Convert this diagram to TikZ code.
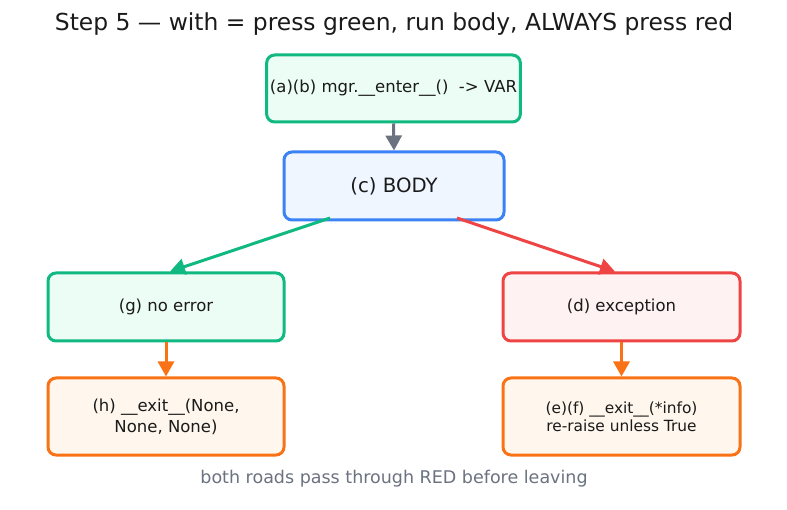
\documentclass[tikz,border=0pt]{standalone}
\usepackage{fontspec}
\setmainfont{DejaVu Sans}
\usetikzlibrary{arrows.meta}
\definecolor{gstroke}{HTML}{10B981}
\definecolor{gfill}{HTML}{ECFDF5}
\definecolor{bstroke}{HTML}{3B82F6}
\definecolor{bfill}{HTML}{EFF6FF}
\definecolor{rstroke}{HTML}{EF4444}
\definecolor{rfill}{HTML}{FEF2F2}
\definecolor{ostroke}{HTML}{F97316}
\definecolor{ofill}{HTML}{FFF7ED}
\definecolor{garrow}{HTML}{6B7280}
\definecolor{txt}{HTML}{1A1A1A}
\begin{document}
\begin{tikzpicture}[x=1pt,y=-1pt,
  box/.style={rounded corners=8pt, line width=3pt, align=center, text=txt,
    font=\fontsize{16.5}{21}\selectfont},
  conn/.style={line width=3pt, -{Triangle[length=15pt,width=16pt]}}]
\useasboundingbox[fill=white] (0,0) rectangle (787,510);
\node[font=\fontsize{23.4}{27}\selectfont, text=txt] (title) at (394,24) {Step 5 — with = press green, run body, ALWAYS press red};
\node[box, draw=gstroke, fill=gfill, minimum width=251pt, minimum height=67pt] (enter) at (393.5,88.5) {(a)(b) mgr.\_\_enter\_\_()\ \ -> VAR};
\node[box, draw=bstroke, fill=bfill, minimum width=220pt, minimum height=68pt, font=\fontsize{19.7}{23}\selectfont] (body) at (394,186) {(c) BODY};
\node[box, draw=gstroke, fill=gfill, minimum width=236pt, minimum height=68pt] (noerr) at (166,307) {(g) no error};
\node[box, draw=rstroke, fill=rfill, minimum width=237pt, minimum height=68pt] (exc) at (621.5,307) {(d) exception};
\node[box, draw=ostroke, fill=ofill, minimum width=236pt, minimum height=77pt] (exitn) at (166,416.5) {(h) \_\_exit\_\_(None,\\None, None)};
\node[box, draw=ostroke, fill=ofill, minimum width=237pt, minimum height=77pt, font=\fontsize{15.4}{18}\selectfont] (exite) at (621.5,416.5) {(e)(f) \_\_exit\_\_(*info)\\re-raise unless True};
\node[font=\fontsize{17.5}{21}\selectfont, text=garrow] (foot) at (394,479) {both roads pass through RED before leaving};
\coordinate (bl) at (330,218);
\coordinate (br) at (457,218);
\draw[conn, draw=garrow, fill=garrow] (enter.south) -- (body.north);
\draw[conn, draw=gstroke, fill=gstroke] (bl) -- (noerr.north -| 170,0);
\draw[conn, draw=rstroke, fill=rstroke] (br) -- (exc.north -| 615,0);
\draw[conn, draw=ostroke, fill=ostroke] (noerr.south) -- (exitn.north);
\draw[conn, draw=ostroke, fill=ostroke] (exc.south) -- (exite.north);
\end{tikzpicture}
\end{document}
